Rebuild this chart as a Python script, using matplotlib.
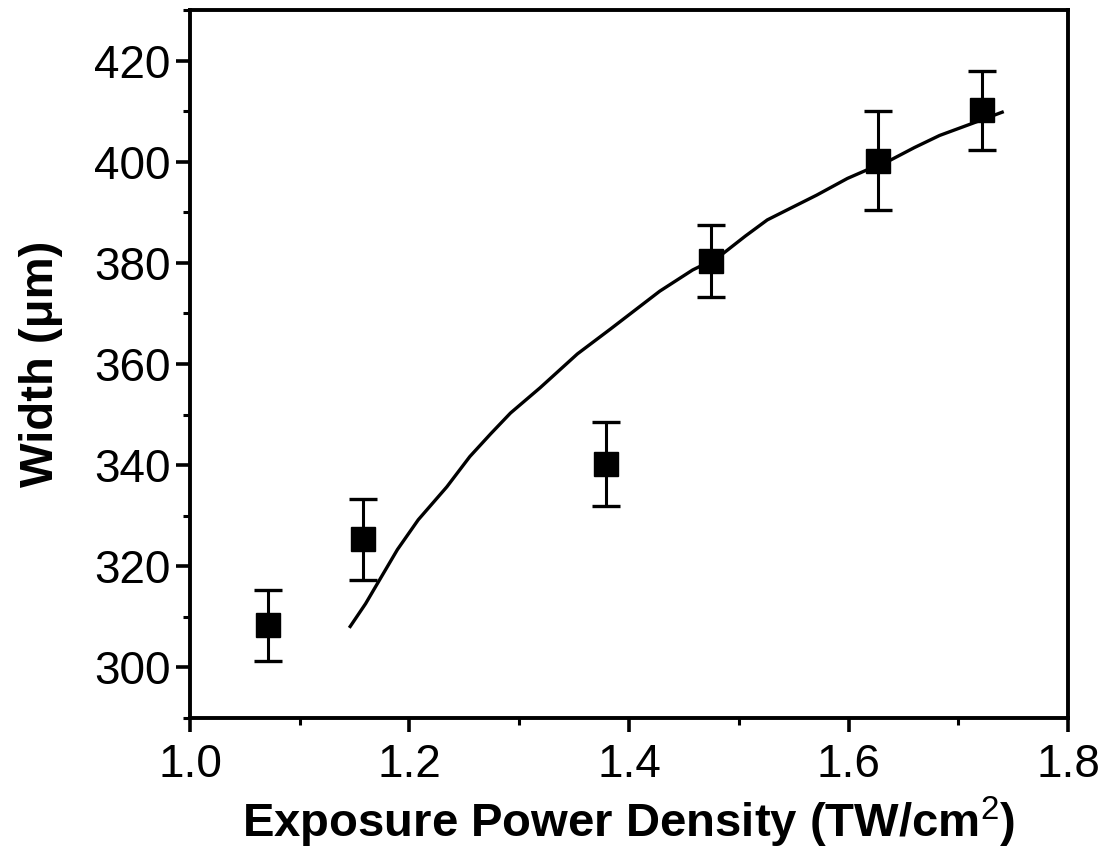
import matplotlib
matplotlib.use("Agg")
import matplotlib.pyplot as plt
from matplotlib.ticker import MultipleLocator

plt.rcParams['font.family'] = ['Liberation Sans', 'DejaVu Sans']
plt.rcParams['mathtext.fontset'] = 'custom'
plt.rcParams['mathtext.rm'] = 'Liberation Sans'
plt.rcParams['mathtext.bf'] = 'Liberation Sans:bold'

# Measured data
power = [1.071, 1.158, 1.379, 1.475, 1.627, 1.722]
width = [308.3, 325.3, 340.3, 380.3, 400.2, 410.2]
width_err = [7.0, 8.0, 8.3, 7.1, 9.8, 7.8]

# Fitted curve
fit_x = [1.146, 1.160, 1.173, 1.189, 1.208, 1.234, 1.255, 1.274, 1.292, 1.319,
         1.353, 1.383, 1.404, 1.428, 1.458, 1.475, 1.486, 1.506, 1.526, 1.548,
         1.571, 1.599, 1.618, 1.638, 1.660, 1.683, 1.713, 1.740]
fit_y = [308.1, 312.6, 317.4, 323.3, 329.2, 335.7, 341.7, 346.2, 350.3, 355.3,
         362.0, 366.9, 370.4, 374.4, 378.6, 380.4, 381.9, 385.3, 388.5, 390.9,
         393.4, 396.7, 398.5, 400.3, 402.8, 405.2, 407.6, 409.8]

xticks = [1.0, 1.2, 1.4, 1.6, 1.8]
yticks = [300, 320, 340, 360, 380, 400, 420]

fig = plt.figure(figsize=(11.07, 8.51), dpi=100)
ax = fig.add_axes([0.1716, 0.1563, 0.7932, 0.8319])

ax.plot(fit_x, fit_y, color='black', lw=2.4, zorder=2)
ax.errorbar(power, width, yerr=width_err, fmt='s', color='black', ms=17,
            ecolor='black', elinewidth=2.2, capsize=10, capthick=2.4, zorder=3)

ax.set_xlim(1.0, 1.8)
ax.set_ylim(290, 430)
ax.set_xticks(xticks)
ax.set_xticklabels([f"{t:.1f}" for t in xticks])
ax.set_yticks(yticks)
ax.set_yticklabels([str(t) for t in yticks])
ax.xaxis.set_minor_locator(MultipleLocator(0.1))
ax.yaxis.set_minor_locator(MultipleLocator(10))

for s in ax.spines.values():
    s.set_linewidth(2.8)

ax.tick_params(which='major', direction='out', length=10, width=2.6,
               labelsize=33, top=False, right=False)
ax.tick_params(which='minor', direction='out', length=5, width=2.2,
               top=False, right=False)
ax.tick_params(axis='x', which='major', pad=8)
ax.tick_params(axis='y', which='major', pad=4)

ax.set_xlabel('Exposure Power Density (TW/cm$^\\mathrm{2}$)', fontsize=34,
              fontweight='bold', labelpad=6)
ax.set_ylabel('Width (\u03bcm)', fontsize=34, fontweight='bold', labelpad=22)

fig.savefig('out.png', dpi=100)
